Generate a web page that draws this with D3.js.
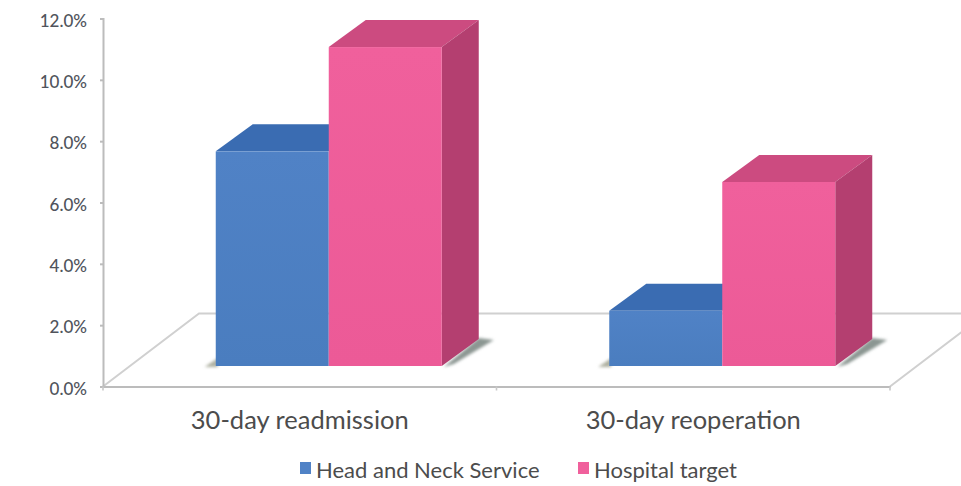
<!DOCTYPE html>
<html>
<head>
<meta charset="utf-8">
<script src="https://d3js.org/d3.v7.min.js"></script>
<style>
  html, body { margin: 0; padding: 0; background: #fff; }
  svg { display: block; }
  text { font-family: Lato, "Open Sans", sans-serif; fill: #4a4a4a; }
</style>
</head>
<body>
<svg id="chart" width="961" height="486"></svg>
<script>
// Chart values, in percent
const categories = ["30-day readmission", "30-day reoperation"];
const seriesNames = ["Head and Neck Service", "Hospital target"];
const headAndNeck = [7.0, 1.8];
const hospitalTarget = [10.4, 6.0];
const yTicks = [0, 2, 4, 6, 8, 10, 12];

const seriesValues = [headAndNeck, hospitalTarget];
const palette = [
  { front: "#5082c6", frontDark: "#4a7dbf", top: "#3a6cb2" },
  { front: "#f0609c", frontDark: "#ec5a97", top: "#cc4b80", side: "#b43f70" }
];

const svg = d3.select("#chart");

// Oblique projection: the bars stand on a floor set back from the axis plane
const floorDepth = { x: 96, y: -73 };
const barDepth = { x: 37, y: -27 };
const barLift = 20.5;
const barShift = 29;

const y = d3.scaleLinear().domain([0, 12]).range([386.5, 18.5]);
const x = d3.scaleBand().domain(categories).range([103, 890]);
const barGroupWidth = 226;
const xSeries = d3.scaleBand().domain(seriesNames).range([0, barGroupWidth]);

const defs = svg.append("defs");
defs.append("filter").attr("id", "soft")
  .attr("x", "-30%").attr("y", "-30%").attr("width", "160%").attr("height", "160%")
  .append("feGaussianBlur").attr("stdDeviation", 1.6);

palette.forEach((c, i) => {
  const g = defs.append("linearGradient").attr("id", "front" + i)
    .attr("x1", 0).attr("x2", 0).attr("y1", 0).attr("y2", 1);
  g.append("stop").attr("offset", "0%").attr("stop-color", c.front);
  g.append("stop").attr("offset", "100%").attr("stop-color", c.frontDark);
});

const poly = pts => d3.line()(pts) + "Z";

// Floor outline
const floorY = y(0);
const x0 = x.range()[0], x1 = x.range()[1];
const floor = svg.append("g")
  .attr("fill", "none").attr("stroke", "#d0d0d0").attr("stroke-width", 2);
floor.append("path").attr("d", d3.line()([
  [x0, floorY],
  [x0 + floorDepth.x, floorY + floorDepth.y],
  [x1 + floorDepth.x, floorY + floorDepth.y],
  [x1, floorY]
]));

// Axes
const yAxis = d3.axisLeft(y).tickValues(yTicks).tickSize(3).tickSizeOuter(3)
  .tickFormat(d => d.toFixed(1) + "%");
const yG = svg.append("g").attr("transform", `translate(${x0},0)`).call(yAxis);
yG.selectAll("path,line").attr("stroke", "#bcbcbc").attr("stroke-width", 2);
yG.selectAll("text")
  .attr("x", -16).attr("dy", "0.45em")
  .style("font-size", "17px").style("font-weight", "500").style("fill", "#50545c");

const xAxis = d3.axisBottom(x).tickSize(0).tickPadding(24);
const xG = svg.append("g").attr("transform", `translate(0,${floorY})`).call(xAxis);
xG.select("path").attr("stroke", "#bcbcbc").attr("stroke-width", 2);
xG.selectAll("text").style("font-size", "25.5px").style("fill", "#4c4c4c");
xG.selectAll("text").attr("dy", "0.71em");
[x0, (x0 + x1) / 2, x1].forEach(px => {
  xG.append("line").attr("x1", px).attr("x2", px).attr("y1", 0).attr("y2", 4)
    .attr("stroke", "#c8c8c8").attr("stroke-width", 1.6);
});

// Bars, one category at a time, back series first
categories.forEach((cat, ci) => {
  const center = x(cat) + x.bandwidth() / 2 + barShift;
  const left = center - barGroupWidth / 2;
  const g = svg.append("g");
  const base = y(0) - barLift;

  // Contact shadows on the floor
  const groupRight = left + barGroupWidth;
  g.append("path")
    .attr("d", poly([
      [groupRight + 2, base + 1],
      [groupRight + barDepth.x, base + barDepth.y - 1],
      [groupRight + barDepth.x + 15, base + barDepth.y + 1],
      [groupRight + 12, base - 2]
    ]))
    .attr("fill", "#8b9692").attr("filter", "url(#soft)");
  g.append("path")
    .attr("d", poly([
      [left + 2, base + 1],
      [left - 11, base + 1],
      [left + 2, base - 8]
    ]))
    .attr("fill", "#aeb0a0").attr("filter", "url(#soft)");
  g.append("line")
    .attr("x1", left).attr("x2", groupRight)
    .attr("y1", base + 1).attr("y2", base + 1)
    .attr("stroke", "#a9afb5").attr("stroke-width", 1.5)
    .attr("filter", "url(#soft)");

  seriesNames.forEach((name, si) => {
    const v = seriesValues[si][ci];
    const bx = left + xSeries(name);
    const bw = xSeries.bandwidth();
    const topY = y(v) - barLift;
    const c = palette[si];

    // Top face
    g.append("path")
      .attr("d", poly([
        [bx, topY],
        [bx + barDepth.x, topY + barDepth.y],
        [bx + bw + barDepth.x, topY + barDepth.y],
        [bx + bw, topY]
      ]))
      .attr("fill", c.top);

    // Side face; the blue one sits behind the pink bar
    if (c.side) {
      g.append("path")
        .attr("d", poly([
          [bx + bw, topY],
          [bx + bw + barDepth.x, topY + barDepth.y],
          [bx + bw + barDepth.x, base + barDepth.y],
          [bx + bw, base]
        ]))
        .attr("fill", c.side);
    }

    // Front face
    g.append("rect")
      .attr("x", bx).attr("y", topY)
      .attr("width", bw).attr("height", base - topY)
      .attr("fill", `url(#front${si})`);
  });
});

// Legend
const legendItems = [
  { box: 300, label: 316 },
  { box: 578, label: 594 }
];
const legend = svg.append("g");
seriesNames.forEach((name, i) => {
  legend.append("rect")
    .attr("x", legendItems[i].box).attr("y", 462)
    .attr("width", 11).attr("height", 12)
    .attr("fill", palette[i].front);
  legend.append("text")
    .attr("x", legendItems[i].label).attr("y", 478)
    .style("font-size", "22px").style("fill", "#4c4c4c")
    .text(name);
});
</script>
</body>
</html>
